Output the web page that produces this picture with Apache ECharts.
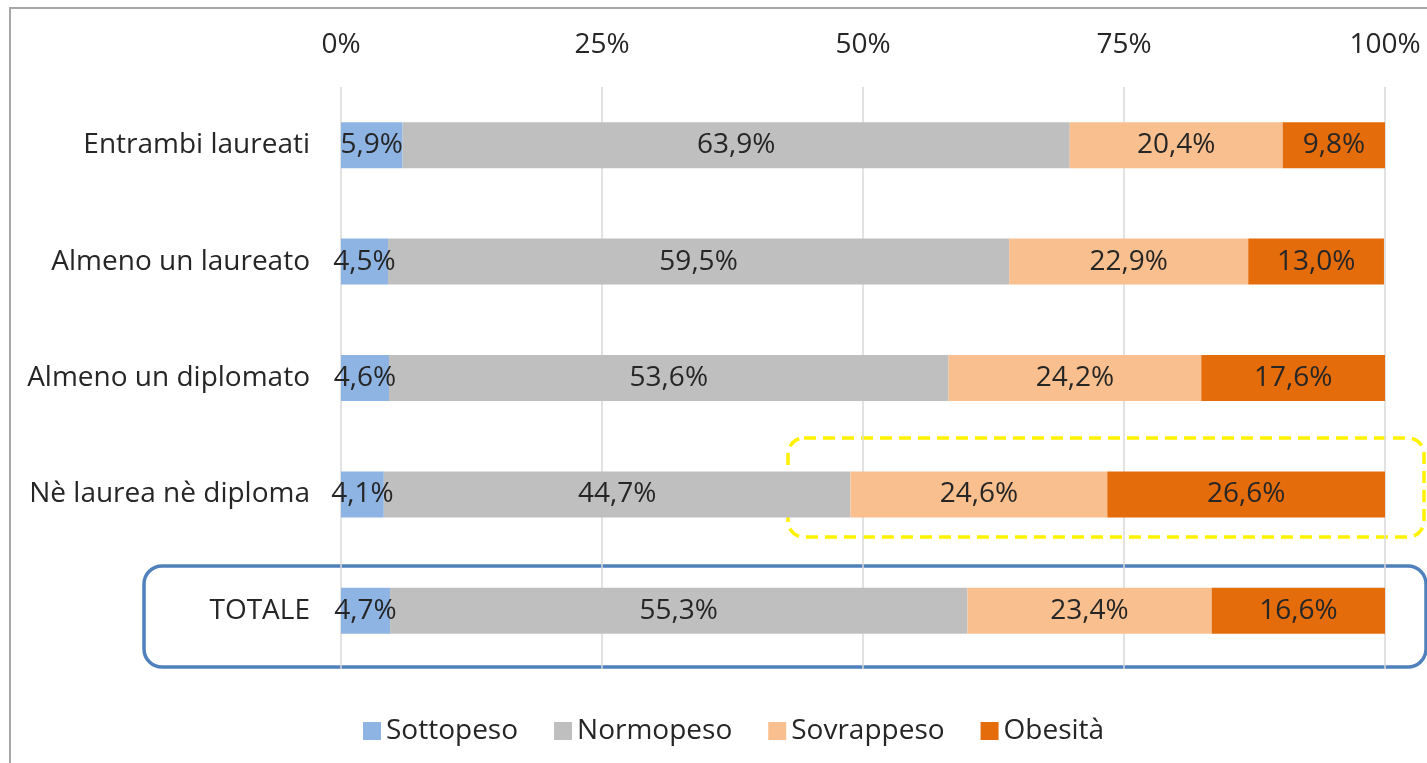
<!DOCTYPE html>
<html>
<head>
<meta charset="utf-8">
<script src="https://cdn.jsdelivr.net/npm/echarts@6/dist/echarts.min.js"></script>
<style>
  html, body { margin: 0; padding: 0; background: #fff; }
  #chart { width: 1427px; height: 763px; }
</style>
</head>
<body>
<div id="chart"></div>
<script>
// categorie (dall'alto in basso)
const categories = ['Entrambi laureati', 'Almeno un laureato', 'Almeno un diplomato', 'Nè laurea nè diploma', 'TOTALE'];
const seriesNames = ['Sottopeso', 'Normopeso', 'Sovrappeso', 'Obesità'];
const sottopeso = [5.9, 4.5, 4.6, 4.1, 4.7];
const normopeso = [63.9, 59.5, 53.6, 44.7, 55.3];
const sovrappeso = [20.4, 22.9, 24.2, 24.6, 23.4];
const obesita = [9.8, 13.0, 17.6, 26.6, 16.6];
const tickValues = [0, 25, 50, 75, 100];

const colors = ['#8EB4E3', '#BFBFBF', '#F9BF8F', '#E46C0A'];
const FONT = 'Open Sans';
const FS = 28;

let myChart = echarts.init(document.getElementById('chart'));

function makeSeries(name, data, color) {
  return {
    name: name,
    type: 'bar',
    stack: 'tot',
    barWidth: 46,
    data: data,
    itemStyle: { color: color },
    label: {
      show: true,
      position: 'inside',
      color: '#262626',
      fontFamily: FONT,
      fontSize: FS,
      formatter: function (p) {
        return p.value.toFixed(1).replace('.', ',') + '%';
      }
    }
  };
}

myChart.setOption({
  animation: false,
  textStyle: { fontFamily: FONT },
  grid: { left: 341, right: 42, top: 87, bottom: 94 },
  legend: {
    data: seriesNames,
    top: 712,
    left: 358,
    itemWidth: 18,
    itemHeight: 18,
    itemGap: 36,
    icon: 'rect',
    textStyle: { fontFamily: FONT, fontSize: FS, color: '#262626' }
  },
  xAxis: {
    type: 'value',
    position: 'top',
    min: 0,
    max: 100,
    interval: 25,
    axisLine: { show: false },
    axisTick: { show: false },
    splitLine: { lineStyle: { color: '#D9D9D9', width: 1.5 } },
    axisLabel: {
      margin: 28,
      fontFamily: FONT,
      fontSize: FS,
      color: '#262626',
      formatter: function (v) { return tickValues.indexOf(v) >= 0 ? v + '%' : ''; }
    }
  },
  yAxis: {
    type: 'category',
    inverse: true,
    data: categories,
    axisLine: { show: false },
    axisTick: { show: false },
    axisLabel: {
      margin: 31,
      fontFamily: FONT,
      fontSize: FS,
      color: '#262626'
    }
  },
  series: [
    makeSeries(seriesNames[0], sottopeso, colors[0]),
    makeSeries(seriesNames[1], normopeso, colors[1]),
    makeSeries(seriesNames[2], sovrappeso, colors[2]),
    makeSeries(seriesNames[3], obesita, colors[3])
  ],
  graphic: [
    {
      type: 'rect',
      shape: { x: 10, y: 8, width: 1440, height: 800 },
      style: { fill: 'none', stroke: '#A6A6A6', lineWidth: 2 },
      silent: true
    },
    {
      type: 'rect',
      shape: { x: 788, y: 438, width: 636, height: 99, r: 16 },
      style: { fill: 'none', stroke: '#FFF200', lineWidth: 3.5, lineDash: [12, 7] },
      silent: true
    },
    {
      type: 'rect',
      shape: { x: 144, y: 566, width: 1282, height: 101, r: 18 },
      style: { fill: 'none', stroke: '#4F81BD', lineWidth: 3.5 },
      silent: true
    }
  ]
});
</script>
</body>
</html>
